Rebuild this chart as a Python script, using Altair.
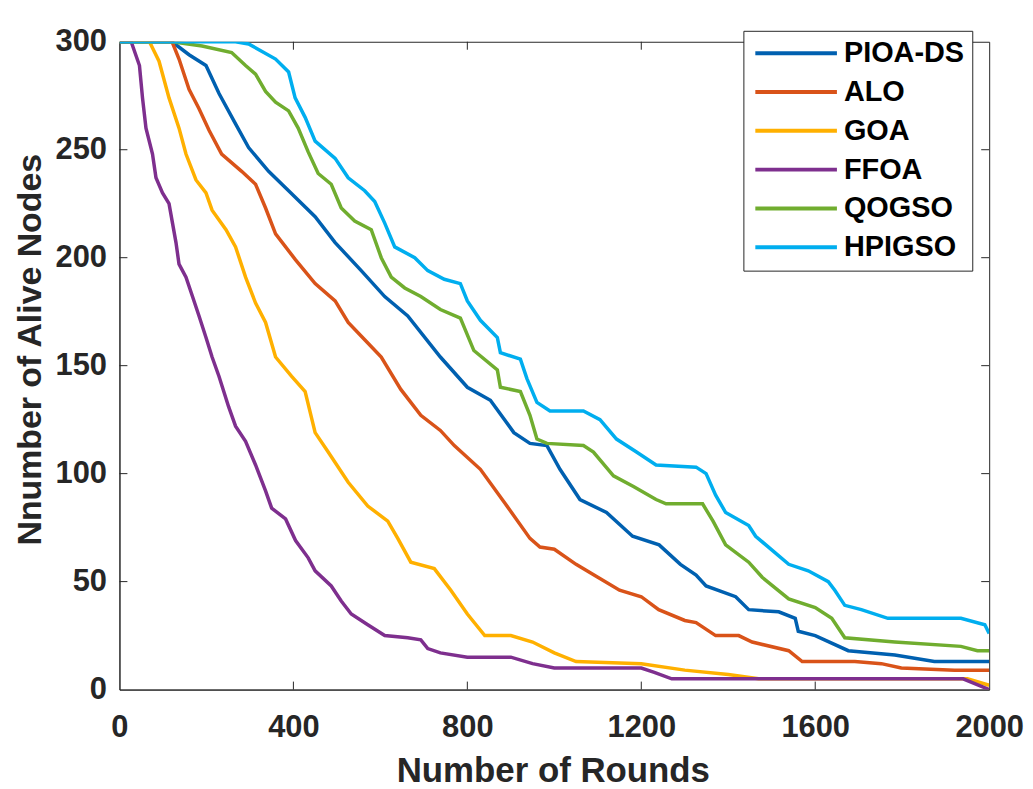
import altair as alt
import pandas as pd

methods = ["PIOA-DS", "ALO", "GOA", "FFOA", "QOGSO", "HPIGSO"]
colors = ["#0060B0", "#D95319", "#FFB000", "#7E2F8E", "#70AD2F", "#00AEEF"]

pioa_x = [0, 121, 160, 199, 229, 267, 297, 343, 389, 450, 496, 556, 610, 663, 738, 800, 853, 907, 944, 983,
          1013, 1059, 1120, 1180, 1241, 1290, 1326, 1349, 1417, 1447, 1516, 1554, 1561, 1600, 1676, 1783, 1874, 2000]
pioa_y = [300, 300, 294, 289, 276, 262, 251, 240, 231, 219, 207, 194, 182, 173, 154, 140, 134, 119, 114, 113,
          102, 88, 82, 71, 67, 58, 53, 48, 43, 37, 36, 33, 27, 25, 18, 16, 13, 13]

alo_x = [0, 121, 137, 160, 183, 206, 235, 281, 313, 336, 359, 405, 450, 496, 526, 564, 602, 647, 693, 738, 770,
         830, 884, 944, 967, 1000, 1050, 1100, 1150, 1200, 1240, 1300, 1326, 1371, 1424, 1455, 1539, 1570, 1691,
         1752, 1798, 1920, 2000]
alo_y = [300, 300, 292, 278, 269, 259, 248, 240, 234, 223, 211, 199, 188, 180, 170, 162, 154, 139, 127, 120, 113,
         102, 87, 70, 66, 65, 58, 52, 46, 43, 37, 32, 31, 25, 25, 22, 18, 13, 13, 12, 10, 9, 9]

goa_x = [0, 69, 91, 114, 137, 153, 176, 199, 213, 245, 267, 290, 313, 336, 359, 396, 427, 450, 480, 526, 571, 617,
         640, 670, 724, 762, 800, 840, 900, 950, 1000, 1050, 1200, 1300, 1400, 1470, 1950, 2000]
goa_y = [300, 300, 291, 274, 260, 248, 236, 230, 222, 213, 205, 191, 179, 170, 154, 145, 138, 119, 110, 96, 85, 78,
         70, 59, 56, 46, 35, 25, 25, 22, 17, 13, 12, 9, 7, 5, 5, 2]

ffoa_x = [0, 27, 46, 53, 61, 76, 84, 99, 114, 122, 130, 137, 153, 168, 183, 199, 213, 229, 251, 267, 290, 313, 336,
          350, 382, 405, 434, 450, 487, 510, 533, 571, 610, 663, 693, 709, 738, 800, 900, 950, 1000, 1200, 1230,
          1270, 1940, 2000]
ffoa_y = [300, 300, 289, 274, 260, 248, 237, 230, 225, 216, 207, 197, 191, 182, 173, 163, 154, 145, 131, 122, 115,
          104, 92, 84, 79, 69, 61, 55, 48, 41, 35, 30, 25, 24, 23, 19, 17, 15, 15, 12, 10, 10, 8, 5, 5, 0]

qogso_x = [0, 121, 190, 258, 290, 313, 336, 359, 389, 411, 434, 457, 487, 510, 541, 579, 602, 625, 656, 693, 738,
           784, 815, 869, 876, 922, 944, 960, 983, 1067, 1090, 1136, 1182, 1234, 1257, 1341, 1365, 1394, 1447, 1478,
           1539, 1600, 1638, 1668, 1783, 1935, 1973, 2000]
qogso_y = [300, 300, 298, 295, 289, 285, 277, 272, 268, 260, 249, 239, 234, 223, 217, 213, 200, 191, 186, 182, 176,
           172, 157, 148, 140, 138, 127, 116, 114, 113, 110, 99, 94, 88, 86, 86, 78, 67, 59, 52, 42, 38, 33, 24, 22,
           20, 18, 18]

hpigso_x = [0, 267, 297, 359, 389, 404, 427, 450, 496, 526, 564, 587, 610, 633, 679, 709, 747, 784, 800, 830, 869,
            876, 922, 937, 960, 990, 1067, 1105, 1143, 1189, 1234, 1326, 1349, 1371, 1394, 1447, 1463, 1539, 1584,
            1630, 1645, 1668, 1706, 1767, 1935, 1990, 2000]
hpigso_y = [300, 300, 299, 292, 286, 274, 265, 254, 246, 237, 231, 226, 216, 205, 200, 194, 190, 188, 180, 171, 163,
            156, 153, 144, 133, 129, 129, 125, 116, 110, 104, 103, 100, 90, 82, 76, 71, 58, 55, 50, 46, 39, 37, 33,
            33, 30, 26]

x_ticks = [0, 400, 800, 1200, 1600, 2000]
y_ticks = [0, 50, 100, 150, 200, 250, 300]

series = [(pioa_x, pioa_y), (alo_x, alo_y), (goa_x, goa_y), (ffoa_x, ffoa_y), (qogso_x, qogso_y), (hpigso_x, hpigso_y)]
rows = []
for name, (xs, ys) in zip(methods, series):
    for i, (a, b) in enumerate(zip(xs, ys)):
        rows.append({"method": name, "x": a, "y": b, "idx": i})
df = pd.DataFrame(rows)

W, H = 874, 651
FONT = "Liberation Sans"
INK = "#262626"

x_axis = alt.Axis(values=x_ticks, format="d", title="Number of Rounds", ticks=False, tickSize=0, labelPadding=47,
                  labelBaseline="alphabetic", labelFlush=False, labelFontSize=31, labelFont=FONT,
                  labelFontWeight="bold", labelColor=INK, domainColor=INK, domainWidth=1, grid=False,
                  titleFontSize=35, titleFont=FONT, titleFontWeight="bold", titleColor=INK,
                  titleX=W / 2 - 1.5, titleY=92, titleBaseline="alphabetic", titleAlign="center")
y_axis = alt.Axis(values=y_ticks, format="d", title="Nnumber of Alive Nodes", ticks=False, tickSize=0, labelPadding=13,
                  labelBaseline="middle", labelFlush=False, labelFontSize=31, labelFont=FONT,
                  labelFontWeight="bold", labelColor=INK, domainColor=INK, domainWidth=1, grid=False,
                  titleFontSize=34, titleFont=FONT, titleFontWeight="bold", titleColor=INK,
                  titleAngle=270, titleX=-79, titleY=309, titleBaseline="alphabetic", titleAlign="center")

xenc = alt.X("x:Q", scale=alt.Scale(domain=[0, 2000], nice=False, zero=False), axis=x_axis)
yenc = alt.Y("y:Q", scale=alt.Scale(domain=[0, 300], nice=False), axis=y_axis)

legend = alt.Legend(orient="none", legendX=627, legendY=-11, symbolType="M-1.05,0H7.15", symbolSize=400,
                    symbolStrokeWidth=4, labelFontSize=29, labelFont=FONT, labelFontWeight="bold",
                    labelColor="black", labelOffset=64, padding=8, rowPadding=9, strokeColor=INK,
                    fillColor="white", labelLimit=0)

lines = alt.Chart(df).mark_line(strokeWidth=3.5, clip=True).encode(
    x=xenc, y=yenc,
    color=alt.Color("method:N", title=None, scale=alt.Scale(domain=methods, range=colors), legend=legend),
    order="idx:Q",
)

xt = pd.DataFrame({"x": x_ticks[1:-1]})
yt = pd.DataFrame({"y": y_ticks[1:-1]})
tick_bottom = alt.Chart(xt).mark_rule(color=INK, strokeWidth=1).encode(x=xenc, y=alt.value(H), y2=alt.value(H - 8))
tick_top = alt.Chart(xt).mark_rule(color=INK, strokeWidth=1).encode(x=xenc, y=alt.value(0), y2=alt.value(8))
tick_left = alt.Chart(yt).mark_rule(color=INK, strokeWidth=1).encode(y=yenc, x=alt.value(0), x2=alt.value(8))
tick_right = alt.Chart(yt).mark_rule(color=INK, strokeWidth=1).encode(y=yenc, x=alt.value(W), x2=alt.value(W - 8))

chart = alt.layer(lines, tick_bottom, tick_top, tick_left, tick_right).properties(
    width=W, height=H,
    autosize=alt.AutoSizeParams(type="none"),
    padding={"left": 112, "top": 32, "right": 36, "bottom": 98},
    background="white",
).configure_view(stroke=INK, strokeWidth=1)

chart.save("out.html", embed_options={"renderer": "svg", "actions": False})
